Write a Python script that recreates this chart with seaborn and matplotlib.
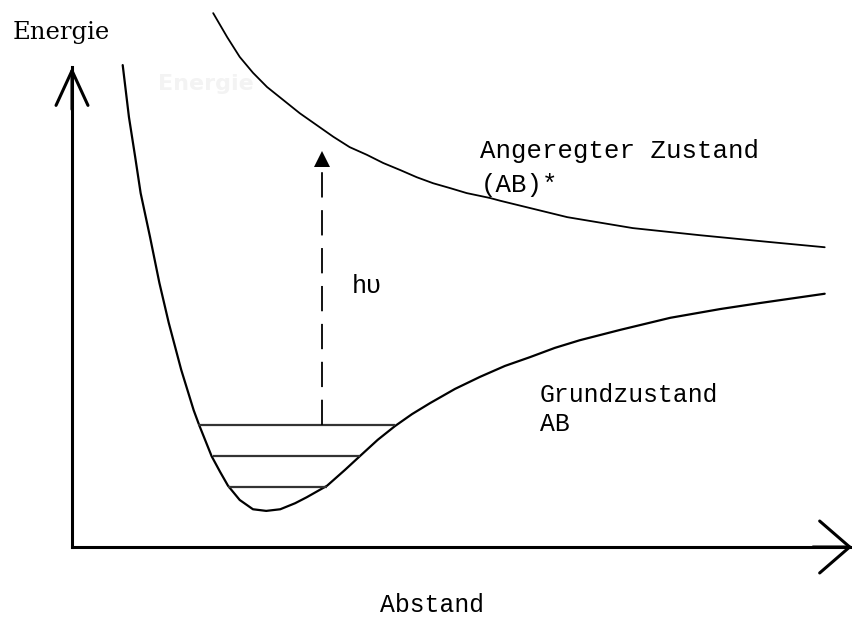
import matplotlib
matplotlib.use("Agg")
import matplotlib.pyplot as plt
import seaborn as sns
import pandas as pd

# Potential energy curves (distance and energy in arbitrary units)
ground_r = [0.65, 0.73, 0.81, 0.88, 1.00, 1.12, 1.24, 1.40, 1.56, 1.63, 1.79,
            1.90, 2.00, 2.15, 2.32, 2.49, 2.67, 2.86, 3.01, 3.27, 3.50, 3.69,
            3.92, 4.14, 4.36, 4.59, 4.91, 5.23, 5.55, 5.87, 6.19, 6.51, 7.03,
            7.67, 8.31, 8.82, 9.65]
ground_e = [8.81, 7.86, 7.13, 6.47, 5.67, 4.83, 4.10, 3.24, 2.50, 2.23, 1.66,
            1.37, 1.12, 0.86, 0.69, 0.66, 0.69, 0.80, 0.91, 1.12, 1.41, 1.66,
            1.96, 2.21, 2.43, 2.63, 2.89, 3.11, 3.31, 3.47, 3.64, 3.78, 3.97,
            4.19, 4.35, 4.46, 4.63]

excited_r = [1.81, 1.99, 2.15, 2.32, 2.50, 2.71, 2.92, 3.14, 3.35, 3.56, 3.78,
             3.99, 4.21, 4.42, 4.63, 4.85, 5.06, 5.36, 5.49, 6.35, 7.19, 8.05,
             8.91, 9.65]
excited_e = [9.76, 9.32, 8.96, 8.67, 8.41, 8.17, 7.93, 7.71, 7.50, 7.31, 7.17,
             7.02, 6.89, 6.76, 6.65, 6.56, 6.47, 6.38, 6.33, 6.03, 5.83, 5.70,
             5.58, 5.48]

# Vibrational levels of the ground state
level_e = [2.23, 1.66, 1.10]
level_left = [1.62, 1.81, 2.00]
level_right = [4.14, 3.69, 3.27]

# Photon absorption hν
photon_r = 3.21
photon_from = 2.23
photon_to = 7.10

sns.set_style("white")
plt.rcParams["font.family"] = ["Liberation Mono", "DejaVu Sans"]
plt.rcParams["text.color"] = "black"

W, H = 852, 617
fig = plt.figure(figsize=(W / 100, H / 100), dpi=100)
fig.patch.set_facecolor("white")
ax = fig.add_axes([72 / W, 70 / H, 780 / W, 547 / H])
ax.set_xlim(0, 10)
ax.set_ylim(0, 10)
ax.set_xticks([])
ax.set_yticks([])
for side in ("top", "right"):
    ax.spines[side].set_visible(False)
for side in ("left", "bottom"):
    ax.spines[side].set_linewidth(2.2)
    ax.spines[side].set_color("black")
ax.spines["left"].set_bounds(0, 8.77)
ax.spines["bottom"].set_bounds(0, 9.97)

ground = pd.DataFrame({"r": ground_r, "E": ground_e})
excited = pd.DataFrame({"r": excited_r, "E": excited_e})
sns.lineplot(data=ground, x="r", y="E", ax=ax, color="black", lw=1.6,
             sort=False, clip_on=False)
sns.lineplot(data=excited, x="r", y="E", ax=ax, color="black", lw=1.3,
             sort=False, clip_on=False)

for e, a, b in zip(level_e, level_left, level_right):
    ax.plot([a, b], [e, e], color="#333333", lw=1.6, solid_capstyle="butt")

ax.plot([photon_r, photon_r], [photon_from, photon_to - 0.15], color="black",
        lw=1.3, linestyle=(0, (14, 7)))
ax.plot([photon_r], [photon_to], marker="^", color="black", markersize=12,
        markeredgewidth=0)

# Axis arrowheads
ax.annotate("", xy=(0, 0.8775), xytext=(0, 0.8), xycoords="axes fraction",
            arrowprops=dict(arrowstyle="->,head_length=2.5,head_width=1.15",
                            lw=2.2, color="black", mutation_scale=10,
                            shrinkA=0, shrinkB=0))
ax.annotate("", xy=(1.0, 0), xytext=(0.95, 0), xycoords="axes fraction",
            arrowprops=dict(arrowstyle="->,head_length=2.16,head_width=1.87",
                            lw=2.2, color="black", mutation_scale=10,
                            shrinkA=0, shrinkB=0))


def label(px, py, s, **kw):
    fig.text(px / W, 1 - py / H, s, va="baseline", ha="left", **kw)


label(13, 39, "Energie", family=["DejaVu Serif"], fontsize=17.5, color="black")
label(158, 90, "Energie", family=["DejaVu Sans"], fontsize=16,
      fontweight="bold", color="#f3f3f3")
label(480, 158, "Angeregter Zustand", fontsize=18.5, color="black")
label(481, 192, "(AB)*", fontsize=18.5, color="black")
label(352, 293, "hυ", fontsize=18, color="black")
label(540, 402, "Grundzustand", fontsize=17.8, color="black")
label(540, 431, "AB", fontsize=17.8, color="black")
label(380, 612, "Abstand", fontsize=17.8, color="black")

fig.savefig("out.png", dpi=100, facecolor="white")
